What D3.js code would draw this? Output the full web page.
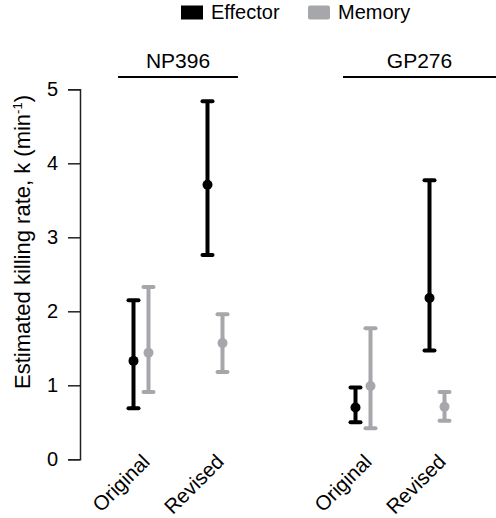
<!DOCTYPE html>
<html><head><meta charset="utf-8">
<script src="https://cdn.jsdelivr.net/npm/d3@7"></script>
<style>body{margin:0;background:#fff}svg{display:block}text{font-family:"Liberation Sans",Arial,Helvetica,sans-serif;fill:#000}</style>
</head><body><svg id="c" width="496" height="518"></svg>
<script>
// Data
const groups = ["NP396", "GP276"];
const categories = ["Original", "Revised"];
const series = ["Effector", "Memory"];
const seriesColors = ["#000000", "#a5a7aa"];
// positions (index units) of each group's categories
const catIndex = [[0, 1], [3, 4]];
// values: [group][category]
const effMean  = [[1.33, 3.71], [0.70, 2.18]];
const effLow   = [[0.69, 2.76], [0.50, 1.47]];
const effHigh  = [[2.15, 4.84], [0.97, 3.77]];
const memMean  = [[1.44, 1.57], [0.99, 0.71]];
const memLow   = [[0.91, 1.18], [0.42, 0.52]];
const memHigh  = [[2.33, 1.96], [1.77, 0.91]];
const yTicks = [0, 1, 2, 3, 4, 5];
// header line extents in index units
const headerSpan = [[-0.31, 1.31], [2.73, 4.9]];

const svg = d3.select("#c");
const x = d3.scaleLinear().domain([0, 4]).range([141, 437]);
const y = d3.scaleLinear().domain([0, 5]).range([459.3, 89.3]);
const dodge = 7.5;

// Y axis
const ax = svg.append("g").attr("transform", "translate(80,0)")
  .call(d3.axisLeft(y).tickValues(yTicks).tickSize(12).tickPadding(10).tickFormat(d3.format("d")));
ax.select(".domain").attr("stroke", "#222").attr("stroke-width", 1.5);
ax.selectAll(".tick line").attr("stroke", "#222").attr("stroke-width", 1.5);
ax.selectAll(".tick text").attr("font-size", 20).attr("font-family", "Liberation Sans, Arial, sans-serif").attr("fill", "#000");

// Y label
const yl = svg.append("text").attr("transform", "translate(30,242) rotate(-90)")
  .attr("text-anchor", "middle").attr("font-size", 22);
yl.append("tspan").text("Estimated killing rate, k (min");
yl.append("tspan").attr("font-size", 13).attr("dy", -8).text("-1");
yl.append("tspan").attr("dy", 8).text(")");

// Headers
groups.forEach((g, gi) => {
  const [a, b] = headerSpan[gi];
  const x0 = x(a), x1 = Math.min(x(b), 496);
  svg.append("line").attr("x1", x0).attr("x2", x1).attr("y1", 77).attr("y2", 77)
    .attr("stroke", "#000").attr("stroke-width", 1.8);
  svg.append("text").attr("x", (x0 + x1) / 2).attr("y", 68).attr("text-anchor", "middle")
    .attr("font-size", 21).text(g);
});

// Category labels
groups.forEach((g, gi) => {
  categories.forEach((c, ci) => {
    const cx = x(catIndex[gi][ci]);
    svg.append("text").attr("text-anchor", "end")
      .attr("transform", `translate(${cx + 10},${463}) rotate(-45)`)
      .attr("font-size", 20.5).text(c);
  });
});

// Error bars
const allSeries = [
  {mean: effMean, low: effLow, high: effHigh, color: seriesColors[0], off: -dodge},
  {mean: memMean, low: memLow, high: memHigh, color: seriesColors[1], off: dodge}
];
const capW = 5;
allSeries.forEach(s => {
  groups.forEach((g, gi) => {
    categories.forEach((c, ci) => {
      const cx = x(catIndex[gi][ci]) + s.off;
      const gg = svg.append("g").attr("stroke", s.color).attr("fill", s.color);
      gg.append("line").attr("x1", cx).attr("x2", cx).attr("y1", y(s.low[gi][ci])).attr("y2", y(s.high[gi][ci]))
        .attr("stroke-width", 4);
      [s.low[gi][ci], s.high[gi][ci]].forEach(v => {
        gg.append("line").attr("x1", cx - capW).attr("x2", cx + capW).attr("y1", y(v)).attr("y2", y(v))
          .attr("stroke-width", 4).attr("stroke-linecap", "round");
      });
      gg.append("circle").attr("cx", cx).attr("cy", y(s.mean[gi][ci])).attr("r", 5).attr("stroke", "none");
    });
  });
});

// Legend
const leg = [{x: 181, label: series[0], color: seriesColors[0], rx: 0}, {x: 308, label: series[1], color: seriesColors[1], rx: 2}];
leg.forEach(l => {
  svg.append("rect").attr("x", l.x).attr("y", 5.5).attr("width", 22).attr("height", 14).attr("rx", l.rx).attr("fill", l.color);
  svg.append("text").attr("x", l.x + 30).attr("y", 19).attr("font-size", 20).text(l.label);
});
</script></body></html>
